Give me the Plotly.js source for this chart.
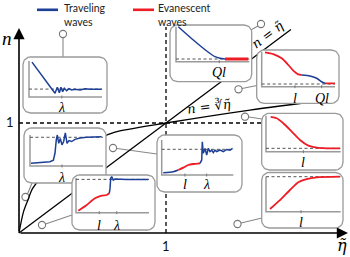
<!DOCTYPE html>
<html><head><meta charset="utf-8">
<script src="https://cdn.plot.ly/plotly-3.0.1.min.js"></script>
<style>html,body{margin:0;padding:0;background:#fff}#c{width:350px;height:257px}</style>
</head><body><div id="c"></div>
<script>
// ---------- main chart data (eta-tilde, n) ----------
const etaDiag = [0, 1.85];
const nDiag = [0, 1.85];
const etaCbrt = [0, 0.03, 0.061, 0.095, 0.3, 0.6, 0.653, 1.0, 1.571, 2.102];
const nCbrt = [0, 0.19, 0.30, 0.41, 0.70, 0.891, 0.918, 1.0, 1.118, 1.209];
const refEta = 1, refN = 1;

// ---------- inset data (local axes, 0..1) ----------
const aBlueX = [0.041,0.356,0.388,0.416,0.438,0.461,0.484,0.516,0.548,0.584,0.63,0.699,0.767,0.836,0.996];
const aBlueY = [0.97,0.103,0.269,0.12,0.269,0.148,0.241,0.176,0.231,0.194,0.213,0.194,0.231,0.213,0.213];
const aLevel = 0.22, aTicks = [0.45], aTickText = ['λ'];

const bBlueX = [0.014,0.16,0.274,0.32,0.342,0.36,0.374,0.393,0.415,0.438,0.461,0.484,0.507,0.534,0.571,0.616,0.685,0.776,0.982];
const bBlueY = [0.087,0.107,0.14,0.19,0.41,0.84,1.0,0.73,0.89,0.68,0.79,1.07,0.73,0.82,0.79,0.86,0.9,0.926,0.946];
const bLevel = 0.926, bTicks = [0.438], bTickText = ['λ'];

const cRedX = [0.032,0.146,0.26,0.352,0.42,0.456];
const cRedY = [0.058,0.222,0.415,0.49,0.51,0.56];
const cBlueX = [0.456,0.466,0.475,0.489,0.511,0.534,0.694,0.99];
const cBlueY = [0.56,0.70,0.99,1.04,0.94,0.97,0.96,0.96];
const cLevel = 0.96, cTicks = [0.319,0.558], cTickText = ['l','λ'];

const dBlue1X = [0.022,0.162,0.232];
const dBlue1Y = [0.066,0.094,0.143];
const dRedX = [0.232,0.302,0.372,0.441,0.535];
const dRedY = [0.143,0.21,0.286,0.314,0.333];
const dBlue2X = [0.535,0.559,0.567,0.581,0.605,0.628,0.651,0.674,0.698,0.721,0.744,0.768,0.814,0.861,0.907,0.954,0.99];
const dBlue2Y = [0.333,0.43,0.95,0.62,0.76,0.57,0.76,0.67,0.71,0.64,0.71,0.67,0.71,0.67,0.73,0.71,0.76];
const dLevel = 0.734, dTicks = [0.325,0.628], dTickText = ['l','λ'];

const eBlueX = [0.031,0.236,0.419,0.532,0.6,0.668];
const eBlueY = [1.0,0.62,0.306,0.143,0.097,0.077];
const eRedX = [0.668,0.986];
const eRedY = [0.077,0.077];
const eLevel = 0.077, eTicks = [0.59], eTickText = ['Ql'];

const fRed1X = [0.045,0.158,0.273,0.363,0.431,0.499,0.546];
const fRed1Y = [0.98,0.93,0.81,0.62,0.46,0.35,0.334];
const fBlueX = [0.546,0.659,0.75,0.818,0.864];
const fBlueY = [0.334,0.306,0.24,0.143,0.097];
const fRed2X = [0.864,1.0];
const fRed2Y = [0.097,0.097];
const fLevel = 0.077, fTicks = [0.454,0.818], fTickText = ['l','Ql'];

const gRedX = [0.063,0.143,0.232,0.344,0.455,0.567,0.678,0.812,0.99];
const gRedY = [0.97,0.93,0.79,0.56,0.325,0.167,0.111,0.094,0.094];
const gLevel = 0.094, gTicks = [0.5], gTickText = ['l'];

const hRedX = [0.054,0.187,0.321,0.433,0.544,0.678,0.99];
const hRedY = [0.077,0.33,0.62,0.84,0.93,0.98,1.0];
const hLevel = 1.0, hTicks = [0.469], hTickText = ['l'];

const legendNames = ['Traveling<br>waves', 'Evanescent<br>waves'];

// ---------- styling / placement ----------
const W = 350, H = 257;
const BLUE = '#1d3f95', RED = '#ee1c25', GRAY = '#9a9a9a', DGRAY = '#555';
const ox = 19, oy = 233, sx = 147, sy = 110; // main axis pixel mapping
const serif = "'Liberation Serif','DejaVu Serif',serif";
const dserif = "'DejaVu Serif',serif";
const sans = "Lato,'Open Sans',sans-serif";
const ETA = 'η\u0303';

const frames = [
  {box:[23,57,107,113], inner:[29,97,102,61], ly:107, conn:[63,38,63,57], circ:[63,34],
   lvl:aLevel, ticks:aTicks, tt:aTickText, series:[[aBlueX,aBlueY,BLUE,'linear',1.5]]},
  {box:[24,128,106,183], inner:[30,166,103,135], ly:177, conn:[27.5,194,32,183], circ:[25.5,197],
   lvl:bLevel, ticks:bTicks, tt:bTickText, series:[[bBlueX,bBlueY,BLUE,'linear',1.5]]},
  {box:[72,175,155,230], inner:[76,212.7,149,178], ly:225, conn:[45.5,224,72,215], circ:[42,225],
   lvl:cLevel, ticks:cTicks, tt:cTickText, series:[[cRedX,cRedY,RED,'spline',1.8],[cBlueX,cBlueY,BLUE,'linear',1.5]]},
  {box:[157,135,242,192], inner:[161.7,175,233.3,140], ly:184, conn:[117,148.5,157,154], circ:[113,148],
   lvl:dLevel, ticks:dTicks, tt:dTickText, series:[[dBlue1X,dBlue1Y,BLUE,'spline',1.5],[dRedX,dRedY,RED,'spline',1.8],[dBlue2X,dBlue2Y,BLUE,'linear',1.5]]},
  {box:[170,25,251.7,81.7], inner:[176,61.7,249.3,26.7], ly:72, conn:[249,31,258,26], circ:[261,24],
   lvl:eLevel, ticks:eTicks, tt:eTickText, series:[[eBlueX,eBlueY,BLUE,'spline',1.5],[eRedX,eRedY,RED,'linear',2.8]]},
  {box:[256.7,50,339,103.3], inner:[261.7,86.7,335,51.7], ly:98, conn:[242,88.5,257,85.5], circ:[238.5,89.3],
   lvl:fLevel, ticks:fTicks, tt:fTickText, series:[[fRed1X,fRed1Y,RED,'spline',1.8],[fBlueX,fBlueY,BLUE,'spline',1.6],[fRed2X,fRed2Y,RED,'linear',1.8]]},
  {box:[261.7,113.3,343,170], inner:[266,151.7,340.7,115.7], ly:162, conn:[249,117,262,119], circ:[245,116.7],
   lvl:gLevel, ticks:gTicks, tt:gTickText, series:[[gRedX,gRedY,RED,'spline',1.8]]},
  {box:[261.7,172.5,343,228], inner:[266,211.7,340.7,176.7], ly:222, conn:[241,223,262,218], circ:[237.5,224],
   lvl:hLevel, ticks:hTicks, tt:hTickText, series:[[hRedX,hRedY,RED,'spline',1.8]]}
];

const px = p => p / W, py = p => 1 - p / H;

const traces = [];
const layout = {
  width: W, height: H, margin:{l:0,r:0,t:0,b:0}, showlegend:false,
  paper_bgcolor:'#fff', plot_bgcolor:'rgba(0,0,0,0)',
  xaxis:{domain:[0,1], range:[-ox/sx, (W-ox)/sx], visible:false, fixedrange:true},
  yaxis:{domain:[0,1], range:[(oy-H)/sy, oy/sy], visible:false, fixedrange:true},
  shapes:[], annotations:[]
};

traces.push({x:[0, (262-ox)/sx], y:[refN, refN], mode:'lines', line:{color:'#000', width:1.3, dash:'4px,3px'}, hoverinfo:'skip'});
traces.push({x:[refEta, refEta], y:[0, (oy-27)/sy], mode:'lines', line:{color:'#000', width:1.3, dash:'4px,3px'}, hoverinfo:'skip'});
traces.push({x:etaDiag, y:nDiag, mode:'lines', line:{color:'#000', width:1.3}, hoverinfo:'skip'});
traces.push({x:etaCbrt, y:nCbrt, mode:'lines', line:{color:'#000', width:1.3, shape:'spline', smoothing:0.8}, hoverinfo:'skip'});

function arrow(x0,y0,x1,y1){
  layout.annotations.push({x:x1,y:y1,ax:x0,ay:y0,xref:'x',yref:'y',axref:'x',ayref:'y',text:'',
    showarrow:true,arrowhead:2,arrowsize:1.4,arrowwidth:1.6,arrowcolor:'#000',standoff:0});
}
arrow(0,0,0,(oy-28)/sy);
arrow(0,0,(348-ox)/sx,0);

function txt(t,x,y,opt){
  layout.annotations.push(Object.assign({text:t,x:px(x),y:py(y),xref:'paper',yref:'paper',showarrow:false,
    xanchor:'center',yanchor:'middle',font:{family:sans,size:13,color:'#111'}},opt||{}));
}
txt('<i>n</i>',7,38,{font:{family:serif,size:19,color:'#000'}});
txt('<i>'+ETA+'</i>',342,245,{font:{family:dserif,size:16,color:'#000'}});
txt('1',166,246,{font:{family:sans,size:13,color:'#111'}});
txt('1',10,122,{font:{family:sans,size:13,color:'#111'}});
txt('<i>n</i> = <i>'+ETA+'</i>',268,35,{textangle:-37,font:{family:dserif,size:13,color:'#000'}});
txt('<i>n</i> = ∛<i>'+ETA+'</i>',209,106,{textangle:-7,font:{family:dserif,size:13,color:'#000'}});

// legend
layout.shapes.push({type:'line',xref:'paper',yref:'paper',x0:px(37),x1:px(58),y0:py(9.8),y1:py(9.8),line:{color:BLUE,width:2.6},layer:'below'});
layout.shapes.push({type:'line',xref:'paper',yref:'paper',x0:px(133),x1:px(154),y0:py(9.8),y1:py(9.8),line:{color:RED,width:2.6},layer:'below'});
txt(legendNames[0],63,0.5,{xanchor:'left',yanchor:'top',align:'left',borderpad:0,font:{family:sans,size:10.5,color:'#222'}});
txt(legendNames[1],157,0.5,{xanchor:'left',yanchor:'top',align:'left',borderpad:0,font:{family:sans,size:10.5,color:'#222'}});

function roundRect(b, r){
  const pts=[];
  const cs=[[b[2]-r,b[1]+r,-90,0],[b[2]-r,b[3]-r,0,90],[b[0]+r,b[3]-r,90,180],[b[0]+r,b[1]+r,180,270]];
  for(const c of cs){ for(let a=c[2]; a<=c[3]; a+=10){ const t=a*Math.PI/180; pts.push([c[0]+r*Math.cos(t), c[1]+r*Math.sin(t)]); } }
  pts.push(pts[0]);
  return pts;
}

frames.forEach((f,i)=>{
  const k = i+2, xa='x'+k, ya='y'+k;
  const [bx0,by0,bx1,by1]=f.box, [il,ib,ir,it]=f.inner;
  const iw=ir-il, ih=ib-it, pad=2;
  const dx0=bx0-pad, dx1=bx1+pad, dy0=by0-pad, dy1=by1+pad;
  layout['xaxis'+k]={domain:[px(dx0),px(dx1)], range:[(dx0-il)/iw,(dx1-il)/iw], visible:false, fixedrange:true, anchor:ya};
  layout['yaxis'+k]={domain:[py(dy1),py(dy0)], range:[(ib-dy1)/ih,(ib-dy0)/ih], visible:false, fixedrange:true, anchor:xa};
  const lx=p=>(p-il)/iw, lyf=p=>(ib-p)/ih;
  const rr=roundRect(f.box,7.5);
  traces.push({x:rr.map(p=>lx(p[0])), y:rr.map(p=>lyf(p[1])), xaxis:xa, yaxis:ya, mode:'lines', fill:'toself',
    fillcolor:'#fff', line:{color:GRAY,width:1.3}, hoverinfo:'skip'});
  traces.push({x:[0,0,1], y:[1,0,0], xaxis:xa, yaxis:ya, mode:'lines', line:{color:GRAY,width:1.5}, hoverinfo:'skip'});
  f.ticks.forEach(t=>{
    traces.push({x:[t,t], y:[-1.5/ih, 1.5/ih], xaxis:xa, yaxis:ya, mode:'lines', line:{color:'#777',width:1}, hoverinfo:'skip'});
  });
  traces.push({x:[0,1], y:[f.lvl,f.lvl], xaxis:xa, yaxis:ya, mode:'lines', line:{color:DGRAY,width:1,dash:'3px,2.5px'}, hoverinfo:'skip'});
  f.series.forEach(s=>{
    traces.push({x:s[0], y:s[1], xaxis:xa, yaxis:ya, mode:'lines', line:{color:s[2],width:s[4],shape:s[3],smoothing:0.7}, hoverinfo:'skip'});
  });
  f.ticks.forEach((t,j)=>{
    layout.annotations.push({text:'<i>'+f.tt[j]+'</i>', x:t, y:py(f.ly), xref:xa, yref:'paper', showarrow:false,
      xanchor:'center', yanchor:'middle', font:{family:serif,size:14,color:'#000'}});
  });
  const c=f.conn;
  layout.shapes.push({type:'line',xref:'paper',yref:'paper',x0:px(c[0]),y0:py(c[1]),x1:px(c[2]),y1:py(c[3]),line:{color:'#888',width:1.1},layer:'below'});
  const r=3.6;
  layout.shapes.push({type:'circle',xref:'paper',yref:'paper',x0:px(f.circ[0]-r),x1:px(f.circ[0]+r),y0:py(f.circ[1]+r),y1:py(f.circ[1]-r),
    line:{color:'#777',width:1.1},fillcolor:'#fff',layer:'below'});
});

Plotly.newPlot('c', traces, layout, {staticPlot:true, displayModeBar:false});
</script></body></html>
